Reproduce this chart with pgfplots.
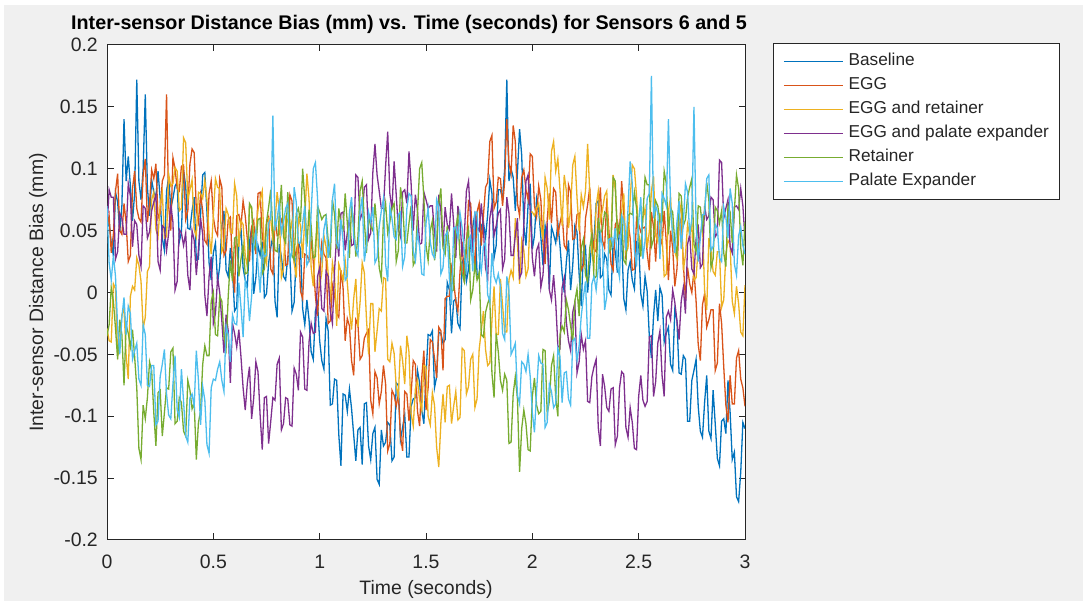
\documentclass[border=0pt]{standalone}
\usepackage{fontspec}
\setmainfont{Liberation Sans}
\usepackage{pgfplots}
\usepackage{pgfplotstable}
\pgfplotsset{compat=1.18}
\definecolor{cB}{HTML}{0072BD}
\definecolor{cE}{HTML}{D95319}
\definecolor{cY}{HTML}{EDB120}
\definecolor{cP}{HTML}{7E2F8E}
\definecolor{cR}{HTML}{77AC30}
\definecolor{cX}{HTML}{4DBEEE}
\definecolor{figbg}{HTML}{F0F0F0}
\definecolor{axc}{HTML}{262626}
\pgfplotstableread{
t b e y p r x
0.00 0.052 0.052 -0.029 0.052 -0.035 0.070
0.01 0.057 0.062 -0.039 0.083 -0.026 0.024
0.02 0.040 0.032 -0.040 0.077 0.004 0.010
0.03 0.030 0.047 0.007 0.077 -0.007 0.030
0.04 0.081 0.082 0.003 0.027 -0.029 0.013
0.05 0.073 0.096 -0.051 0.033 -0.054 -0.028
0.06 0.049 0.050 -0.044 0.064 -0.022 -0.050
0.07 0.070 0.047 -0.018 0.060 -0.034 -0.020
0.08 0.140 0.072 -0.013 0.047 -0.075 -0.004
0.09 0.090 0.056 -0.051 0.047 -0.026 -0.034
0.10 0.110 0.025 -0.070 0.088 -0.033 -0.011
0.11 0.086 0.030 -0.003 0.078 -0.044 -0.017
0.12 0.058 0.084 0.005 0.037 -0.030 -0.054
0.13 0.080 0.098 0.002 0.058 -0.052 -0.047
0.14 0.172 0.068 0.028 0.055 -0.077 -0.041
0.15 0.090 0.060 0.022 0.030 -0.126 -0.070
0.16 0.075 0.057 0.009 0.021 -0.135 -0.075
0.17 0.100 0.095 -0.029 0.070 -0.091 -0.026
0.18 0.160 0.108 -0.020 0.068 -0.102 -0.034
0.19 0.085 0.057 0.017 0.044 -0.085 -0.075
0.20 0.062 0.072 0.021 0.049 -0.056 -0.076
0.21 0.091 0.099 0.075 0.066 -0.063 -0.059
0.22 0.081 0.092 0.081 0.073 -0.097 -0.059
0.23 0.077 0.104 0.051 0.079 -0.124 -0.107
0.24 0.098 0.060 0.045 0.025 -0.081 -0.104
0.25 0.076 0.064 0.071 0.018 -0.079 -0.068
0.26 0.044 0.090 0.081 0.054 -0.116 -0.058
0.27 0.034 0.095 0.044 0.052 -0.097 -0.046
0.28 0.082 0.160 0.045 0.034 -0.077 -0.082
0.29 0.093 0.070 0.095 0.048 -0.078 -0.099
0.30 0.068 0.050 0.086 0.071 -0.048 -0.102
0.31 0.076 0.109 0.088 0.057 -0.045 -0.074
0.32 0.086 0.100 0.101 0.002 -0.106 -0.051
0.33 0.089 0.084 0.098 0.009 -0.104 -0.095
0.34 0.041 0.082 0.066 0.051 -0.085 -0.101
0.35 0.049 0.102 0.068 0.048 -0.089 -0.062
0.36 0.099 0.103 0.125 0.038 -0.112 -0.088
0.37 0.086 0.059 0.121 0.048 -0.116 -0.116
0.38 0.052 0.066 0.075 0.014 -0.071 -0.121
0.39 0.051 0.104 0.083 0.002 -0.079 -0.085
0.40 0.066 0.116 0.091 0.050 -0.094 -0.082
0.41 0.077 0.113 0.051 0.042 -0.089 -0.092
0.42 0.026 0.067 0.045 0.014 -0.135 -0.047
0.43 0.027 0.057 0.081 0.035 -0.105 -0.071
0.44 0.063 0.079 0.080 0.060 -0.096 -0.107
0.45 0.095 0.066 0.076 0.047 -0.058 -0.076
0.46 0.097 0.042 0.091 -0.002 -0.043 -0.087
0.47 0.065 0.039 0.075 -0.019 -0.051 -0.123
0.48 0.024 0.080 0.047 0.013 -0.051 -0.130
0.49 0.010 0.090 0.031 0.029 -0.007 -0.077
0.50 0.032 0.061 0.062 -0.025 0.000 -0.070
0.51 0.040 0.050 0.092 -0.017 -0.034 -0.071
0.52 0.008 0.046 0.085 0.012 -0.035 -0.062
0.53 0.021 0.092 0.084 0.000 -0.003 -0.056
0.54 0.054 0.085 0.033 -0.023 -0.007 -0.071
0.55 0.066 0.030 0.038 -0.049 -0.035 -0.080
0.56 0.018 0.034 0.068 -0.018 -0.045 -0.027
0.57 0.013 0.059 0.063 -0.031 -0.003 -0.034
0.58 0.036 0.061 0.049 -0.073 0.026 -0.056
0.59 0.018 0.022 0.048 -0.025 0.009 -0.018
0.60 -0.015 0.000 0.088 -0.033 0.044 -0.025
0.61 -0.012 0.062 0.078 -0.044 0.045 -0.026
0.62 0.040 0.063 0.037 -0.030 0.013 0.008
0.63 0.052 0.054 0.058 -0.052 0.027 -0.012
0.64 0.020 0.074 0.055 -0.077 0.038 -0.036
0.65 0.010 0.062 0.030 -0.095 0.015 0.010
0.66 0.005 0.043 0.021 -0.073 0.016 0.002
0.67 0.041 0.025 0.070 -0.060 0.072 -0.023
0.68 0.052 0.053 0.068 -0.102 0.069 -0.003
0.69 -0.001 0.058 0.044 -0.085 0.034 0.038
0.70 0.012 0.031 0.049 -0.056 0.039 0.050
0.71 0.038 0.080 0.067 -0.064 0.059 0.022
0.72 0.030 0.081 0.075 -0.099 0.060 0.000
0.73 0.041 0.046 0.082 -0.127 0.015 0.034
0.74 -0.004 0.035 0.029 -0.085 0.019 0.029
0.75 -0.001 0.056 0.023 -0.084 0.057 0.030
0.76 0.024 0.061 0.060 -0.122 0.069 0.056
0.77 0.036 0.019 0.059 -0.104 0.083 0.060
0.78 0.046 0.015 0.042 -0.085 0.049 0.143
0.79 -0.007 0.060 0.057 -0.087 0.034 0.050
0.80 -0.020 0.046 0.081 -0.058 0.033 0.060
0.81 0.039 0.047 0.067 -0.053 0.063 0.072
0.82 0.029 0.059 0.012 -0.111 0.087 0.048
0.83 0.013 0.055 0.019 -0.106 0.045 0.057
0.84 0.010 0.022 0.061 -0.085 0.040 0.068
0.85 0.029 0.023 0.058 -0.086 0.081 0.072
0.86 0.030 0.079 0.048 -0.107 0.056 0.025
0.87 -0.015 0.074 0.058 -0.108 0.030 0.034
0.88 -0.008 0.027 0.024 -0.061 0.026 0.085
0.89 0.030 0.034 0.012 -0.066 0.064 0.073
0.90 0.041 0.041 0.060 -0.079 0.068 0.040
0.91 0.035 0.001 0.054 -0.032 0.057 0.040
0.92 -0.013 -0.005 0.028 -0.036 0.100 0.056
0.93 -0.026 0.031 0.060 -0.078 0.075 0.070
0.94 -0.006 0.030 0.096 -0.079 0.037 0.022
0.95 -0.022 0.026 0.076 -0.040 0.067 0.026
0.96 -0.048 0.041 0.020 -0.025 0.054 0.065
0.97 -0.054 0.025 0.005 -0.033 0.028 0.100
0.98 -0.015 -0.003 0.039 -0.032 0.029 0.105
0.99 -0.008 -0.019 0.057 0.013 0.070 0.076
1.00 -0.039 0.012 0.005 0.020 0.065 0.038
1.01 -0.055 0.040 0.016 -0.013 0.059 0.027
1.02 -0.062 0.031 0.046 -0.015 0.062 0.051
1.03 -0.021 0.028 0.037 0.017 0.063 0.060
1.04 -0.031 -0.025 0.015 0.013 0.042 0.028
1.05 -0.091 -0.023 -0.008 -0.015 0.028 0.042
1.06 -0.090 0.006 0.024 -0.025 0.075 0.075
1.07 -0.070 -0.002 0.013 0.018 0.063 0.088
1.08 -0.071 -0.017 -0.027 0.046 0.035 0.040
1.09 -0.115 -0.020 0.023 0.029 0.068 0.036
1.10 -0.140 0.018 0.017 0.064 0.055 0.059
1.11 -0.082 0.004 0.010 0.065 0.051 0.042
1.12 -0.083 -0.039 0.026 0.034 0.080 0.010
1.13 -0.096 -0.021 0.008 0.048 0.056 0.013
1.14 -0.078 -0.027 -0.015 0.060 0.028 0.065
1.15 -0.094 -0.055 -0.030 0.038 0.070 0.077
1.16 -0.115 -0.067 -0.005 0.039 0.058 0.045
1.17 -0.136 -0.022 0.011 0.095 0.029 0.035
1.18 -0.111 -0.026 -0.028 0.093 0.045 0.030
1.19 -0.109 -0.054 -0.008 0.059 0.082 0.066
1.20 -0.139 -0.051 0.024 0.064 0.090 0.077
1.21 -0.090 -0.037 0.016 0.085 0.058 0.025
1.22 -0.089 -0.033 -0.021 0.087 0.032 0.038
1.23 -0.124 -0.030 -0.050 0.043 0.062 0.065
1.24 -0.135 -0.087 -0.009 0.048 0.053 0.057
1.25 -0.114 -0.098 -0.009 0.097 0.050 0.069
1.26 -0.109 -0.064 -0.048 0.120 0.072 0.024
1.27 -0.151 -0.069 -0.031 0.095 0.051 0.028
1.28 -0.155 -0.090 -0.013 0.082 0.020 0.053
1.29 -0.111 -0.080 -0.015 0.068 0.011 0.066
1.30 -0.124 -0.059 0.012 0.068 0.060 0.076
1.31 -0.121 -0.074 0.011 0.102 0.072 0.023
1.32 -0.105 -0.128 -0.054 0.130 0.048 0.009
1.33 -0.107 -0.122 -0.056 0.080 0.057 0.069
1.34 -0.136 -0.079 -0.041 0.067 0.068 0.060
1.35 -0.133 -0.083 -0.049 0.106 0.072 0.045
1.36 -0.073 -0.092 -0.076 0.079 0.025 0.043
1.37 -0.075 -0.082 -0.084 0.051 0.034 0.063
1.38 -0.119 -0.116 -0.043 0.045 0.085 0.065
1.39 -0.109 -0.128 -0.055 0.081 0.073 0.021
1.40 -0.099 -0.080 -0.074 0.083 0.040 0.029
1.41 -0.133 -0.082 -0.035 0.072 0.040 0.068
1.42 -0.133 -0.104 -0.048 0.114 0.056 0.080
1.43 -0.092 -0.082 -0.098 0.088 0.070 0.078
1.44 -0.086 -0.055 -0.108 0.050 0.022 0.034
1.45 -0.085 -0.058 -0.078 0.079 0.026 0.026
1.46 -0.063 -0.096 -0.071 0.066 0.065 0.049
1.47 -0.073 -0.108 -0.087 0.039 0.100 0.037
1.48 -0.095 -0.069 -0.095 0.040 0.105 0.015
1.49 -0.106 -0.047 -0.059 0.081 0.076 0.014
1.50 -0.068 -0.095 -0.060 0.075 0.038 0.056
1.51 -0.034 -0.077 -0.100 0.068 0.026 0.068
1.52 -0.035 -0.038 -0.107 0.070 0.050 0.041
1.53 -0.031 -0.040 -0.081 0.070 0.058 0.031
1.54 -0.077 -0.053 -0.091 0.048 0.026 0.028
1.55 -0.068 -0.069 -0.125 0.033 0.039 0.075
1.56 -0.032 -0.028 -0.141 0.079 0.072 0.069
1.57 -0.033 -0.031 -0.105 0.066 0.084 0.015
1.58 -0.041 -0.063 -0.082 0.037 0.036 0.020
1.59 -0.038 -0.005 -0.105 0.069 0.031 0.046
1.60 0.008 -0.003 -0.076 0.055 0.054 0.049
1.61 0.002 -0.003 -0.075 0.051 0.035 0.011
1.62 -0.033 0.020 -0.106 0.080 0.001 -0.010
1.63 -0.007 0.009 -0.092 0.056 0.002 0.052
1.64 -0.005 -0.007 -0.080 0.028 0.052 0.053
1.65 -0.025 -0.015 -0.103 0.070 0.062 0.044
1.66 -0.029 0.017 -0.101 0.058 0.028 0.064
1.67 0.025 0.041 -0.045 0.029 0.016 0.052
1.68 0.028 0.008 -0.047 0.045 0.009 0.033
1.69 0.009 0.035 -0.082 0.082 0.043 0.015
1.70 0.019 0.074 -0.076 0.090 0.052 0.043
1.71 0.041 0.072 -0.054 0.058 -0.006 0.046
1.72 0.053 0.041 -0.050 0.032 0.002 0.017
1.73 0.064 0.018 -0.093 0.062 0.023 0.065
1.74 0.015 0.065 -0.086 0.053 0.010 0.065
1.75 0.013 0.072 -0.046 0.050 0.016 0.029
1.76 0.054 0.038 -0.031 0.072 -0.034 0.017
1.77 0.057 0.062 -0.015 0.051 -0.036 0.037
1.78 0.044 0.085 -0.046 0.020 -0.016 0.041
1.79 0.063 0.089 -0.059 0.011 -0.009 -0.002
1.80 0.091 0.122 -0.057 0.060 -0.004 -0.007
1.81 0.080 0.127 -0.023 0.071 -0.065 0.032
1.82 0.028 0.068 0.005 0.046 -0.085 0.013
1.83 0.038 0.073 -0.034 0.054 -0.033 0.008
1.84 0.083 0.093 -0.034 0.064 -0.048 0.015
1.85 0.083 0.092 0.011 0.067 -0.071 0.005
1.86 0.076 0.070 -0.010 0.019 -0.079 -0.033
1.87 0.100 0.090 -0.032 0.027 -0.066 -0.038
1.88 0.172 0.140 -0.032 0.077 -0.071 0.013
1.89 0.090 0.105 0.010 0.064 -0.122 0.002
1.90 0.100 0.096 0.018 0.030 -0.121 -0.050
1.91 0.093 0.135 0.012 0.030 -0.082 -0.046
1.92 0.066 0.122 0.060 0.046 -0.068 -0.041
1.93 0.097 0.072 0.040 0.060 -0.086 -0.083
1.94 0.132 0.062 0.007 0.012 -0.145 -0.090
1.95 0.111 0.093 0.042 0.016 -0.110 -0.056
1.96 0.054 0.099 0.034 0.055 -0.095 -0.058
1.97 0.038 0.083 0.013 0.090 -0.106 -0.064
1.98 0.071 0.075 0.019 0.095 -0.127 -0.050
1.99 0.088 0.112 0.065 0.066 -0.128 -0.068
2.00 0.035 0.110 0.065 0.028 -0.084 -0.097
2.01 0.046 0.070 0.062 0.013 -0.069 -0.113
2.02 0.076 0.061 0.068 0.034 -0.091 -0.080
2.03 0.067 0.086 0.072 0.039 -0.098 -0.051
2.04 0.045 0.075 0.054 0.004 -0.096 -0.057
2.05 0.022 0.040 0.043 0.014 -0.046 -0.058
2.06 0.054 0.023 0.093 0.044 -0.047 -0.109
2.07 0.044 0.059 0.084 0.053 -0.098 -0.105
2.08 0.003 0.080 0.059 0.002 -0.088 -0.074
2.09 0.053 0.056 0.114 -0.006 -0.059 -0.080
2.10 0.047 0.084 0.122 0.014 -0.051 -0.093
2.11 0.040 0.081 0.098 -0.008 -0.085 -0.090
2.12 0.056 0.046 0.108 -0.043 -0.100 -0.045
2.13 0.038 0.056 0.083 -0.045 -0.034 -0.052
2.14 0.015 0.064 0.054 0.004 -0.027 -0.089
2.15 0.000 0.038 0.095 0.012 -0.032 -0.065
2.16 0.025 0.035 0.082 -0.024 -0.006 -0.064
2.17 0.042 0.087 0.052 -0.039 -0.014 -0.086
2.18 0.002 0.081 0.067 -0.047 -0.027 -0.091
2.19 0.022 0.043 0.103 -0.016 -0.040 -0.039
2.20 0.054 0.044 0.110 -0.008 -0.007 -0.037
2.21 0.049 0.063 0.077 -0.065 0.003 -0.055
2.22 0.015 0.064 0.050 -0.056 -0.019 -0.043
2.23 -0.011 0.018 0.079 -0.034 0.036 -0.019
2.24 0.033 0.022 0.069 -0.046 0.043 -0.004
2.25 0.037 0.060 0.082 -0.039 0.014 0.009
2.26 0.000 0.071 0.120 -0.088 0.009 -0.037
2.27 0.021 0.085 0.081 -0.089 0.036 -0.037
2.28 0.041 0.050 0.032 -0.068 0.047 0.007
2.29 0.042 0.035 0.022 -0.060 0.011 0.013
2.30 0.072 0.033 0.070 -0.054 0.013 0.002
2.31 0.074 0.062 0.082 -0.109 0.060 0.020
2.32 0.012 0.085 0.058 -0.124 0.048 0.047
2.33 0.014 0.042 0.067 -0.066 0.051 0.037
2.34 0.031 0.036 0.078 -0.076 0.065 -0.014
2.35 0.027 0.076 0.082 -0.093 0.063 -0.003
2.36 0.002 0.050 0.035 -0.096 0.032 0.043
2.37 -0.002 0.023 0.044 -0.078 0.035 0.044
2.38 0.041 0.018 0.095 -0.077 0.093 0.038
2.39 0.033 0.055 0.083 -0.123 0.090 0.052
2.40 0.016 0.058 0.050 -0.116 0.045 0.022
2.41 0.056 0.047 0.050 -0.077 0.054 0.012
2.42 0.044 0.090 0.066 -0.064 0.063 0.062
2.43 -0.005 0.065 0.080 -0.066 0.026 0.058
2.44 -0.014 0.027 0.032 -0.109 0.023 0.034
2.45 0.018 0.057 0.036 -0.117 0.062 0.068
2.46 0.025 0.044 0.075 -0.093 0.064 0.106
2.47 0.010 0.018 0.103 -0.105 0.063 0.088
2.48 0.003 0.019 0.100 -0.126 0.081 0.034
2.49 0.041 0.060 0.078 -0.127 0.068 0.021
2.50 0.040 0.055 0.048 -0.084 0.043 0.057
2.51 -0.001 0.049 0.036 -0.067 0.029 0.077
2.52 -0.011 0.052 0.060 -0.087 0.062 0.027
2.53 0.013 0.053 0.068 -0.092 0.093 0.042
2.54 0.001 0.032 0.036 -0.088 0.087 0.076
2.55 -0.035 0.018 0.049 -0.036 0.087 0.080
2.56 -0.053 0.065 0.082 -0.035 0.037 0.175
2.57 -0.019 0.053 0.094 -0.084 0.043 0.060
2.58 0.002 0.025 0.046 -0.072 0.074 0.070
2.59 -0.023 0.058 0.041 -0.041 0.070 0.064
2.60 0.004 0.045 0.064 -0.031 0.057 0.027
2.61 -0.002 0.039 0.046 -0.067 0.057 0.080
2.62 -0.040 0.066 0.013 -0.084 0.098 0.076
2.63 -0.033 0.040 0.015 -0.020 0.088 0.070
2.64 -0.028 0.010 0.066 -0.015 0.047 0.140
2.65 -0.058 0.050 0.077 -0.022 0.068 0.070
2.66 -0.063 0.036 0.044 0.002 0.065 0.046
2.67 -0.014 0.005 0.033 -0.008 0.040 0.032
2.68 -0.023 0.019 0.027 -0.023 0.031 0.057
2.69 -0.065 0.054 0.062 -0.038 0.080 0.074
2.70 -0.066 0.060 0.072 -0.007 0.078 0.035
2.71 -0.051 0.024 0.018 0.004 0.054 0.056
2.72 -0.054 -0.006 0.030 -0.017 0.059 0.088
2.73 -0.104 0.020 0.055 0.039 0.077 0.081
2.74 -0.104 0.007 0.046 0.047 0.085 0.046
2.75 -0.071 0.000 0.056 0.019 0.092 0.060
2.76 -0.063 0.018 0.010 0.015 0.039 0.150
2.77 -0.054 -0.007 0.012 0.043 0.033 0.055
2.78 -0.092 -0.042 0.036 0.055 0.070 0.025
2.79 -0.112 -0.055 0.047 0.020 0.069 0.044
2.80 -0.117 -0.010 0.056 0.023 0.052 0.063
2.81 -0.089 -0.001 0.001 0.070 0.066 0.063
2.82 -0.067 -0.028 -0.014 0.059 0.089 0.092
2.83 -0.112 -0.022 0.044 0.062 0.075 0.095
2.84 -0.118 -0.014 0.034 0.077 0.020 0.034
2.85 -0.079 -0.014 0.017 0.075 0.027 0.037
2.86 -0.106 -0.063 0.014 0.045 0.069 0.055
2.87 -0.134 -0.057 0.033 0.048 0.066 0.052
2.88 -0.140 -0.009 0.033 0.107 0.056 0.028
2.89 -0.104 -0.025 -0.012 0.105 0.066 0.025
2.90 -0.102 -0.060 -0.006 0.060 0.032 0.069
2.91 -0.114 -0.091 0.031 0.068 0.021 0.061
2.92 -0.071 -0.105 0.042 0.075 0.070 0.044
2.93 -0.097 -0.067 0.039 0.037 0.065 0.084
2.94 -0.135 -0.090 -0.007 0.032 0.040 0.072
2.95 -0.129 -0.090 -0.017 0.069 0.066 0.023
2.96 -0.165 -0.053 0.005 0.070 0.095 0.014
2.97 -0.169 -0.047 -0.009 0.067 0.084 0.046
2.98 -0.145 -0.070 -0.032 0.084 0.036 0.053
2.99 -0.105 -0.077 -0.035 0.070 0.022 0.038
3.00 -0.110 -0.092 0.006 0.043 0.057 0.031
}\data
\begin{document}
\begin{tikzpicture}
\fill[white] (0bp,0bp) rectangle (1083bp,601bp);
\fill[figbg] (4bp,0bp) rectangle (1083bp,596bp);
\begin{axis}[
  at={(107bp,61bp)}, anchor=south west,
  scale only axis, width=638bp, height=495bp,
  xmin=0, xmax=3, ymin=-0.2, ymax=0.2,
  xtick={0,0.5,1,1.5,2,2.5,3},
  xticklabels={0,0.5,1,1.5,2,2.5,3},
  ytick={-0.2,-0.15,-0.1,-0.05,0,0.05,0.1,0.15,0.2},
  yticklabels={-0.2,-0.15,-0.1,-0.05,0,0.05,0.1,0.15,0.2},
  tick align=inside, major tick length=6.5bp,
  axis line style={axc, line width=1bp},
  tick style={axc, line width=1bp},
  axis background/.style={fill=white},
  ticklabel style={font=\fontsize{19.5}{23}\selectfont, text=axc},
  yticklabel style={inner xsep=0pt, xshift=-9bp},
  xticklabel style={inner ysep=0pt, yshift=-15bp},
  xlabel={Time (seconds)},
  xlabel style={at={(axis description cs:0.5,-0.1111)}, anchor=base, inner sep=0pt, font=\fontsize{19.5}{23}\selectfont, text=axc},
  ylabel={Inter-sensor Distance Bias (mm)},
  ylabel style={at={(axis description cs:-0.1003,0.5)}, anchor=base, inner sep=0pt, font=\fontsize{19.5}{23}\selectfont, text=axc},
  title={Inter-sensor Distance Bias (mm) vs. Time (seconds) for Sensors 6 and 5},
  title style={at={(axis description cs:0.4734,1.0202)}, anchor=base, inner sep=0pt, font=\bfseries\fontsize{19.8}{23}\selectfont, text=black},
  every axis plot/.append style={line width=1.3bp},
  legend image code/.code={\draw[#1, line width=1.4bp] (0bp,0bp) -- (59bp,0bp);},
  legend cell align=left,
  legend style={name=leg, at={(axis description cs:1.0439,1.004)}, anchor=north west,
    draw=none, fill=white,
    font=\fontsize{17.3}{20}\selectfont\color{axc},
    inner xsep=10bp, inner ysep=6bp, column sep=5bp, row sep=0pt,
    nodes={inner xsep=0pt, inner ysep=3.5bp, text height=13bp, text depth=4bp}},
]
\addplot[color=cB] table[x=t,y=b]{\data};
\addplot[color=cE] table[x=t,y=e]{\data};
\addplot[color=cY] table[x=t,y=y]{\data};
\addplot[color=cP] table[x=t,y=p]{\data};
\addplot[color=cR] table[x=t,y=r]{\data};
\addplot[color=cX] table[x=t,y=x]{\data};
\legend{Baseline,EGG,EGG and retainer,EGG and palate expander,Retainer,Palate Expander}
\end{axis}
\draw[axc, line width=0.9bp] (leg.south west) rectangle (leg.north east);
\end{tikzpicture}
\end{document}
